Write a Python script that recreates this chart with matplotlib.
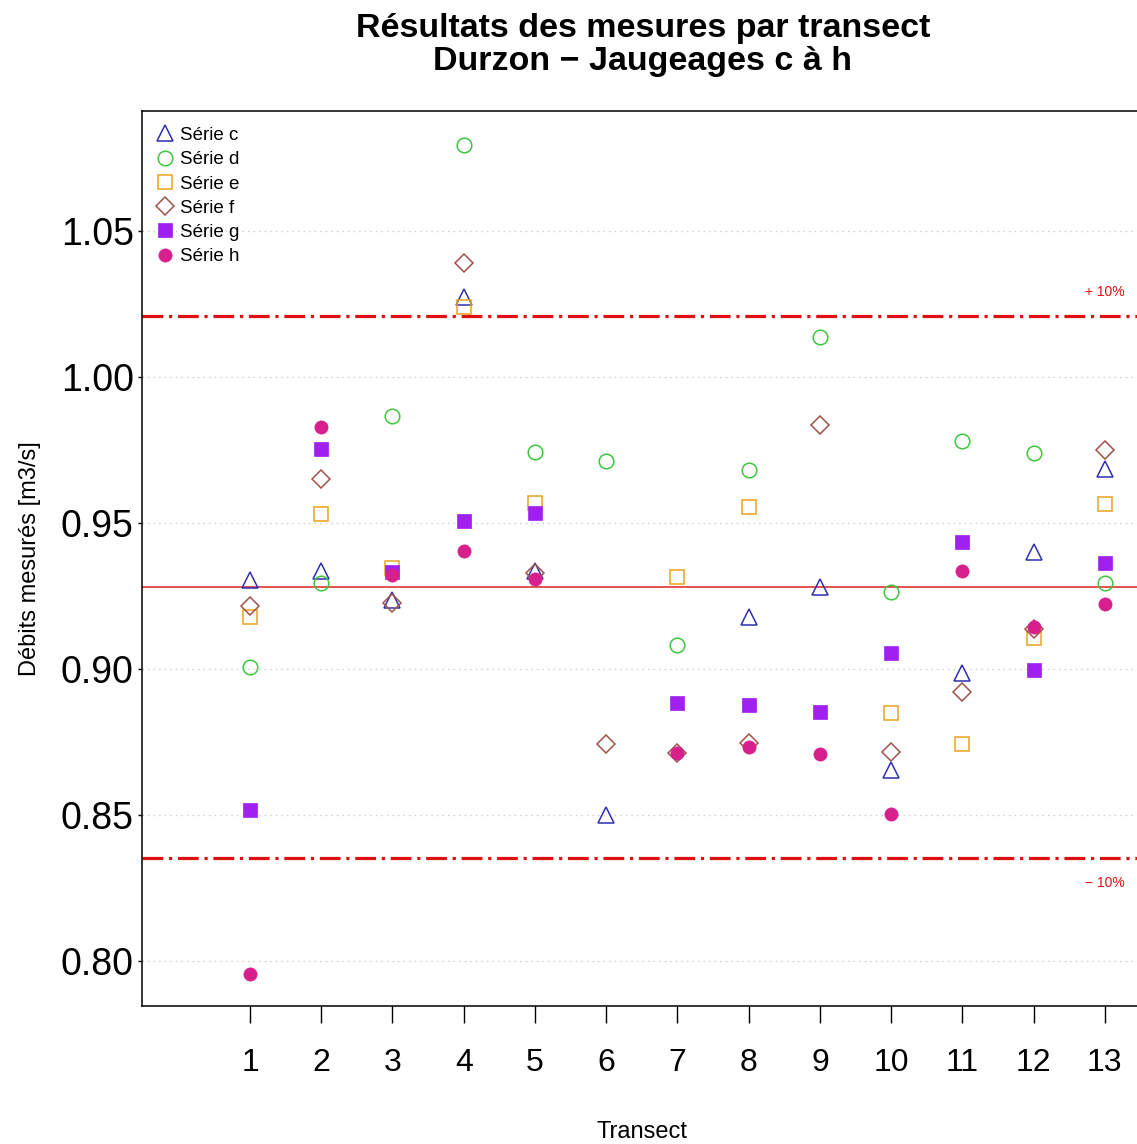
import numpy as np
import matplotlib.pyplot as plt

plt.rcParams['font.family'] = ['Liberation Sans', 'DejaVu Sans']

transects = np.arange(1, 14)
nan = np.nan
# débits par série (m3/s)
serie_c = [0.9305, 0.9336, 0.9236, 1.0274, 0.9336, 0.8500, nan, 0.9178, 0.9281, 0.8654, 0.8986, 0.9400, 0.9685]
serie_d = [0.9007, 0.9295, 0.9866, 1.0794, 0.9743, 0.9712, 0.9082, 0.9682, 1.0137, 0.9264, 0.9781, 0.9740, 0.9295]
serie_e = [0.9178, 0.9531, 0.9345, 1.0240, 0.9568, nan, 0.9315, 0.9555, nan, 0.8849, 0.8743, 0.9106, 0.9565]
serie_f = [0.9216, 0.9651, 0.9226, 1.0390, 0.9329, 0.8743, 0.8712, 0.8747, 0.9836, 0.8716, 0.8921, 0.9137, 0.9750]
serie_g = [0.8517, 0.9753, 0.9332, 0.9507, 0.9534, nan, 0.8884, 0.8877, 0.8853, 0.9055, 0.9435, 0.8997, 0.9363]
serie_h = [0.7955, 0.9829, 0.9322, 0.9404, 0.9308, nan, 0.8712, 0.8733, 0.8709, 0.8503, 0.9336, 0.9144, 0.9223]
q_ref = 0.928  # débit moyen de référence

series = [
    ('Série c', serie_c, '^', '#2f2fb0', 'none'),
    ('Série d', serie_d, 'o', '#3cc83c', 'none'),
    ('Série e', serie_e, 's', '#e8a21c', 'none'),
    ('Série f', serie_f, 'D', '#a0524a', 'none'),
    ('Série g', serie_g, 's', '#a020f0', 'full'),
    ('Série h', serie_h, 'o', '#d8208c', 'full'),
]

fig = plt.figure(figsize=(11.37, 11.44), dpi=100)
ax = fig.add_axes([0.1249, 0.1206, 0.88, 0.7824])

for yv in [0.80, 0.85, 0.90, 0.95, 1.00, 1.05]:
    ax.axhline(yv, color='#cccccc', lw=1, ls=(0, (1, 3)), zorder=0)

ax.axhline(q_ref, color='#dd2222', lw=1.1, zorder=1)
ax.axhline(q_ref * 1.1, color='#e01010', lw=2.3, dashes=(6.5, 1.8, 1, 1.8), zorder=1)
ax.axhline(q_ref * 0.9, color='#e01010', lw=2.3, dashes=(6.5, 1.8, 1, 1.8), zorder=1)
ax.text(13, q_ref * 1.1 + 0.006, '+ 10%', color='#e01010', fontsize=10, ha='center', va='bottom')
ax.text(13, q_ref * 0.9 - 0.006, '\u2212 10%', color='#e01010', fontsize=10, ha='center', va='top')

for i, (name, vals, mk, col, fill) in enumerate(series):
    if fill == 'none':
        ms = 11 if mk == '^' else (9 if mk == 'D' else 10.5)
        ax.plot(transects, vals, ls='none', marker=mk, ms=ms, mfc='none', mec=col, mew=1.1,
                label=name, zorder=2 + i)
    else:
        ax.plot(transects, vals, ls='none', marker=mk, ms=9.5, mfc=col, mec=col, mew=0.5,
                label=name, zorder=2 + i)

ax.set_xlim(-0.516, 13.53)
ax.set_ylim(0.7846, 1.0911)
ax.set_xticks(transects)
ax.set_yticks([0.80, 0.85, 0.90, 0.95, 1.00, 1.05])
ax.set_yticklabels(['0.80', '0.85', '0.90', '0.95', '1.00', '1.05'])
ax.tick_params(axis='x', length=12, width=1, pad=18, labelsize=23)
ax.tick_params(axis='y', length=3, width=1, pad=3, labelsize=27)
for sp in ax.spines.values():
    sp.set_linewidth(1.1)

ax.set_xlabel('Transect', fontsize=17, labelpad=31)
ax.set_ylabel('Débits mesurés [m3/s]', fontsize=17, labelpad=14)
fig.text(0.5655, 0.989, 'Résultats des mesures par transect\nDurzon \u2212 Jaugeages c à h',
         ha='center', va='top', fontsize=24.5, fontweight='bold', linespacing=1.1)

ax.legend(loc='upper left', frameon=False, fontsize=13.5, handletextpad=0.4,
          labelspacing=0.38, borderaxespad=0.5, handlelength=0.8, borderpad=0.35)

fig.savefig('out.png', dpi=100)
